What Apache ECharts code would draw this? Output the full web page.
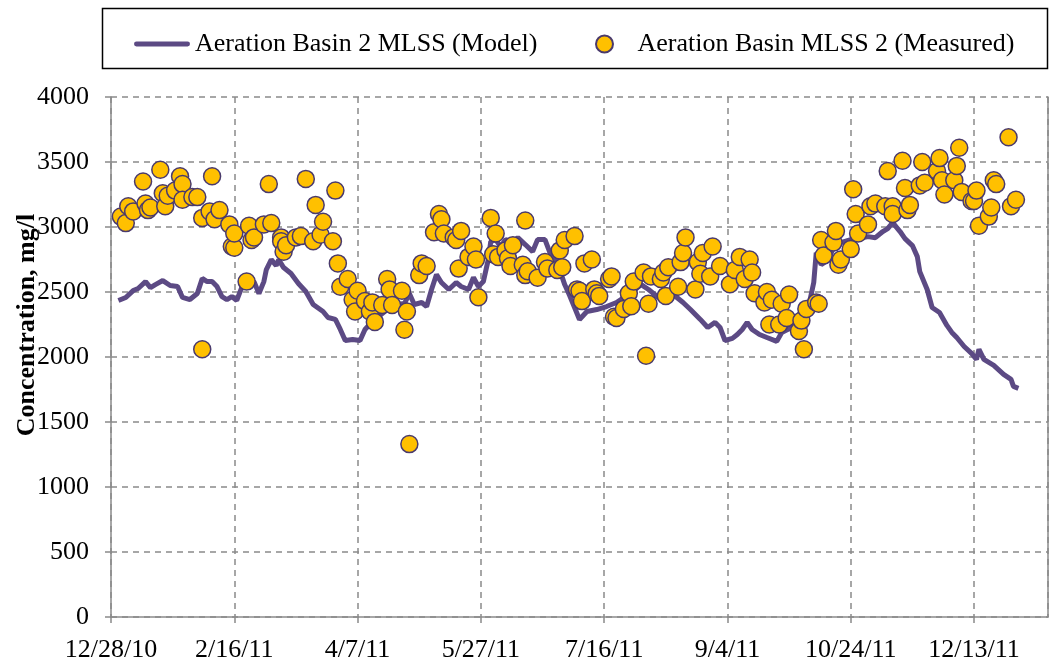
<!DOCTYPE html>
<html><head><meta charset="utf-8">
<script src="https://cdn.jsdelivr.net/npm/echarts@6/dist/echarts.min.js"></script>
<style>html,body{margin:0;padding:0;background:#fff}#c{width:1050px;height:663px}</style>
</head><body><div id="c"></div>
<script>
// x values are days since 12/28/10
const xTickLabels = ['12/28/10','2/16/11','4/7/11','5/27/11','7/16/11','9/4/11','10/24/11','12/13/11'];

const modelDay = [3,6,9,11,14,16,18,21,24,27,29,32,35,37,39,41,43,45,47,49,51,53,55,58,60,62,63,65,67,68,70,73,76,79,82,86,88,91,93,95,98,101,103,106,109,112,116,119,121,123,126,128,130,132,134,137,140,142,145,147,149,151,153,154,156,158,160,163,165,168,171,173,176,178,181,184,186,188,190,193,197,201,205,208,211,215,218,222,225,229,232,235,239,242,245,247,249,252,254,256,258,260,263,266,270,272,276,279,282,283,285,286,288,291,293,296,300,305,307,310,313,315,317,320,322,325,327,328,331,333,336,339,341,343,346,349,351,352,354,358,362,365,366,368];
const modelValue = [2435,2458,2511,2527,2580,2534,2557,2588,2550,2542,2458,2442,2488,2604,2580,2580,2542,2465,2442,2465,2435,2534,2580,2580,2488,2580,2673,2749,2703,2749,2688,2642,2565,2504,2404,2350,2304,2289,2212,2127,2135,2127,2212,2273,2319,2365,2404,2411,2488,2404,2419,2388,2519,2634,2573,2519,2573,2542,2519,2611,2542,2580,2749,2888,2903,2849,2903,2888,2918,2865,2811,2903,2903,2803,2726,2557,2473,2381,2289,2350,2365,2388,2419,2458,2496,2557,2519,2458,2481,2465,2419,2365,2289,2227,2266,2227,2127,2143,2173,2212,2266,2212,2173,2150,2120,2189,2227,2266,2312,2396,2573,2803,2711,2749,2842,2880,2903,2918,2926,2918,2965,2988,3034,2965,2911,2857,2772,2657,2519,2381,2342,2243,2189,2150,2081,2028,1981,2058,1981,1935,1866,1828,1774,1759];

const measuredDay = [4,6,7,9,13,14,15,16,20,21,22,23,26,28,29,29,33,35,37,37,40,41,42,44,48,49,50,50,55,56,57,58,62,64,65,69,69,70,71,75,77,79,82,83,85,86,90,91,92,93,96,98,99,100,103,105,106,107,110,112,113,114,118,119,120,121,125,126,128,131,133,134,135,139,140,141,142,145,147,148,149,154,155,156,157,160,161,162,163,167,168,168,169,173,176,177,181,182,183,184,188,189,190,191,192,195,196,197,198,202,203,204,205,208,210,211,212,216,217,218,219,223,224,225,226,230,231,232,233,237,238,239,240,243,244,247,251,253,255,257,259,260,261,265,266,267,268,271,272,274,275,279,280,281,282,286,287,288,289,293,294,295,296,300,301,302,303,307,308,310,314,315,317,317,321,322,323,324,328,329,330,335,336,337,338,342,343,344,345,349,350,351,352,356,357,358,359,364,365,367];
const measuredValue = [3080,3030,3160,3120,3350,3180,3130,3150,3440,3260,3160,3240,3280,3390,3330,3210,3230,3230,2060,3070,3120,3390,3060,3130,3020,2850,2840,2950,2580,3010,2900,2920,3020,3330,3030,2920,2890,2810,2860,2920,2930,3370,2890,3170,2940,3040,2890,3280,2720,2540,2600,2440,2350,2510,2430,2350,2420,2270,2400,2600,2520,2400,2510,2210,2350,1330,2630,2720,2700,2960,3100,3060,2950,2920,2900,2680,2970,2770,2850,2750,2460,3070,2790,2950,2770,2820,2760,2700,2860,2710,3050,2630,2660,2610,2730,2680,2670,2820,2690,2900,2930,2520,2510,2430,2720,2750,2520,2490,2470,2600,2620,2310,2300,2370,2490,2390,2580,2650,2010,2410,2620,2600,2650,2470,2690,2540,2730,2800,2920,2520,2730,2640,2800,2620,2850,2700,2560,2670,2770,2600,2750,2650,2490,2420,2500,2250,2440,2250,2410,2300,2480,2200,2280,2060,2370,2420,2410,2900,2780,2880,2970,2710,2750,2830,3290,3100,2950,3020,3160,3180,3160,3430,3160,3100,3510,3300,3130,3170,3320,3500,3340,3430,3530,3360,3250,3360,3470,3610,3270,3200,3200,3280,3010,3080,3150,3360,3330,3690,3160,3210];

const seriesNames = ['Aeration Basin 2 MLSS (Model)', 'Aeration Basin MLSS 2 (Measured)'];
const yAxisTitle = 'Concentration, mg/l';

const font = '"Liberation Serif", "Times New Roman", serif';
const gridGray = '#8a8a8a';
const lineColor = '#5c4a84';

const chart = echarts.init(document.getElementById('c'), null, {renderer: 'canvas'});
chart.setOption({
  animation: false,
  backgroundColor: '#fff',
  grid: {left: 111, right: 2, top: 97, bottom: 45, containLabel: false},
  xAxis: {
    type: 'value', min: 0, max: 380, interval: 50,
    axisLine: {show: true, onZero: false, lineStyle: {color: gridGray, width: 1.5}},
    axisTick: {show: true, length: 6, lineStyle: {color: gridGray, width: 1.5}},
    axisLabel: {fontFamily: font, fontSize: 26, color: '#000', margin: 20, showMaxLabel: false,
      formatter: v => (v % 50 === 0 && xTickLabels[v / 50] !== undefined) ? xTickLabels[v / 50] : ''},
    splitLine: {show: true, lineStyle: {color: gridGray, width: 1.5, type: [6, 5]}}
  },
  yAxis: [{
    type: 'value', min: 0, max: 4000, interval: 500,
    axisLine: {show: true, lineStyle: {color: gridGray, width: 1.5}},
    axisTick: {show: true, length: 6, lineStyle: {color: gridGray, width: 1.5}},
    axisLabel: {fontFamily: font, fontSize: 26, color: '#000', margin: 22, formatter: v => String(v)},
    splitLine: {show: true, lineStyle: {color: gridGray, width: 1.5, type: [6, 5]}}
  }, {
    type: 'value', min: 0, max: 4000, position: 'right',
    axisLine: {show: true, lineStyle: {color: gridGray, width: 1.5}},
    axisTick: {show: false}, axisLabel: {show: false}, splitLine: {show: false}
  }],
  legend: [{
    left: 129, top: 26, itemWidth: 56, itemHeight: 16,
    textStyle: {fontFamily: font, fontSize: 26, color: '#000'},
    data: [{name: seriesNames[0], icon: 'path://M2,0 L54,0 A2.5,2.5 0 0 1 54,5 L2,5 A2.5,2.5 0 0 1 2,0 Z', itemStyle: {color: lineColor}}]
  }, {
    left: 590, top: 26, itemWidth: 56, itemHeight: 17,
    textStyle: {fontFamily: font, fontSize: 26, color: '#000'},
    data: [seriesNames[1]]
  }],
  series: [{
    name: seriesNames[0], type: 'line', symbol: 'none', z: 2,
    lineStyle: {color: lineColor, width: 5},
    itemStyle: {color: lineColor},
    data: modelDay.map((d, i) => [d, modelValue[i]])
  }, {
    name: seriesNames[1], type: 'scatter', symbol: 'circle', symbolSize: 17, z: 3,
    itemStyle: {color: '#ffc000', borderColor: '#4a3a6c', borderWidth: 1.5, opacity: 1},
    data: measuredDay.map((d, i) => [d, measuredValue[i]])
  }],
  graphic: [{
    type: 'rect', silent: true,
    shape: {x: 102.5, y: 8.5, width: 945, height: 60},
    style: {fill: 'none', stroke: '#000', lineWidth: 1.5}
  }, {
    type: 'text', silent: true, x: 27, y: 325, rotation: Math.PI / 2,
    style: {text: yAxisTitle, fontFamily: font, fontSize: 26, fontWeight: 'bold', fill: '#000',
      align: 'center', verticalAlign: 'middle'}
  }]
});
</script></body></html>
